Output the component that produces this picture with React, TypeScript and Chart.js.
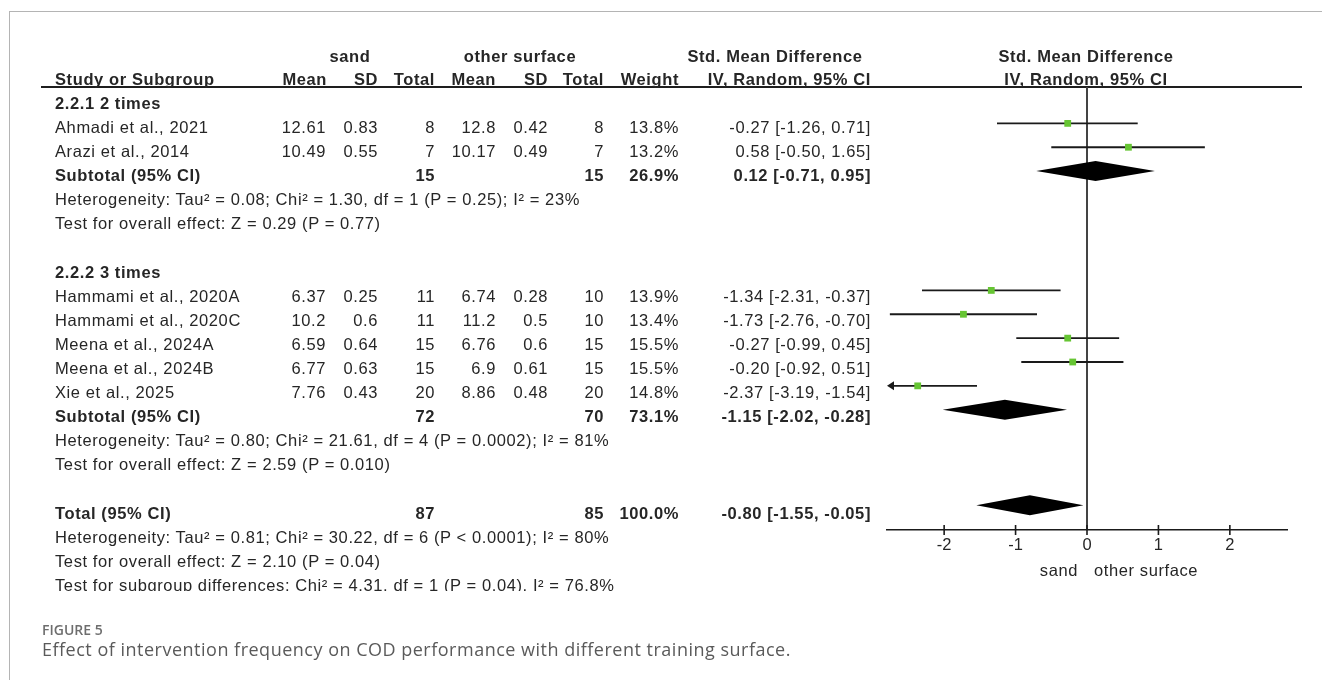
import React, { useEffect, useRef } from "react";
import { Chart, registerables } from "chart.js";

Chart.register(...registerables);

// ---------------- data ----------------
const groupLabels = ["2.2.1 2 times", "2.2.2 3 times"];
const studyNames = [
  "Ahmadi et al., 2021",
  "Arazi et al., 2014",
  "Hammami et al., 2020A",
  "Hammami et al., 2020C",
  "Meena et al., 2024A",
  "Meena et al., 2024B",
  "Xie et al., 2025",
];
const studyGroup = [0, 0, 1, 1, 1, 1, 1];
const sandMean = [12.61, 10.49, 6.37, 10.2, 6.59, 6.77, 7.76];
const sandSD = [0.83, 0.55, 0.25, 0.6, 0.64, 0.63, 0.43];
const sandTotal = [8, 7, 11, 11, 15, 15, 20];
const otherMean = [12.8, 10.17, 6.74, 11.2, 6.76, 6.9, 8.86];
const otherSD = [0.42, 0.49, 0.28, 0.5, 0.6, 0.61, 0.48];
const otherTotal = [8, 7, 10, 10, 15, 15, 20];
const studyWeight = [13.8, 13.2, 13.9, 13.4, 15.5, 15.5, 14.8];
const studySmd = [-0.27, 0.58, -1.34, -1.73, -0.27, -0.2, -2.37];
const studyLow = [-1.26, -0.5, -2.31, -2.76, -0.99, -0.92, -3.19];
const studyHigh = [0.71, 1.65, -0.37, -0.7, 0.45, 0.51, -1.54];

const subSandTotal = [15, 72];
const subOtherTotal = [15, 70];
const subWeight = [26.9, 73.1];
const subSmd = [0.12, -1.15];
const subLow = [-0.71, -2.02];
const subHigh = [0.95, -0.28];
const subHet = [
  "Heterogeneity: Tau² = 0.08; Chi² = 1.30, df = 1 (P = 0.25); I² = 23%",
  "Heterogeneity: Tau² = 0.80; Chi² = 21.61, df = 4 (P = 0.0002); I² = 81%",
];
const subTest = [
  "Test for overall effect: Z = 0.29 (P = 0.77)",
  "Test for overall effect: Z = 2.59 (P = 0.010)",
];

const totalSand = 87;
const totalOther = 85;
const totalWeight = 100.0;
const totalSmd = -0.8;
const totalLow = -1.55;
const totalHigh = -0.05;
const totalHet = "Heterogeneity: Tau² = 0.81; Chi² = 30.22, df = 6 (P < 0.0001); I² = 80%";
const totalTest = "Test for overall effect: Z = 2.10 (P = 0.04)";
const subgroupTest = "Test for subgroup differences: Chi² = 4.31, df = 1 (P = 0.04), I² = 76.8%";

const xTickValues = [-2, -1, 0, 1, 2];
const xMin = -2.8;
const xMax = 2.8;
const favoursLeft = "sand";
const favoursRight = "other surface";

// ---------------- layout (rows) ----------------
type Row =
  | { kind: "group"; g: number }
  | { kind: "study"; i: number }
  | { kind: "sub"; g: number }
  | { kind: "het"; text: string }
  | { kind: "blank" }
  | { kind: "total" };

function buildRows(): Row[] {
  const rows: Row[] = [];
  groupLabels.forEach((_, g) => {
    rows.push({ kind: "group", g });
    studyNames.forEach((_, i) => {
      if (studyGroup[i] === g) rows.push({ kind: "study", i });
    });
    rows.push({ kind: "sub", g });
    rows.push({ kind: "het", text: subHet[g] });
    rows.push({ kind: "het", text: subTest[g] });
    rows.push({ kind: "blank" });
  });
  rows.push({ kind: "total" });
  rows.push({ kind: "het", text: totalHet });
  rows.push({ kind: "het", text: totalTest });
  rows.push({ kind: "het", text: subgroupTest });
  return rows;
}
const rows = buildRows();
const studyRow: number[] = studyNames.map((_, i) => rows.findIndex((r) => r.kind === "study" && r.i === i));
const subRow: number[] = groupLabels.map((_, g) => rows.findIndex((r) => r.kind === "sub" && r.g === g));
const totalRow = rows.findIndex((r) => r.kind === "total");

const f2 = (v: number) => v.toFixed(2);
const ciText = (m: number, l: number, h: number) => `${f2(m)} [${f2(l)}, ${f2(h)}]`;
const pct = (v: number) => `${v.toFixed(1)}%`;

const COL = { sm: 326, ss: 378, st: 435, om: 496, os: 548, ot: 604, w: 679, ci: 871 };
const W = 1322;
const rowTop = (r: number) => 92.9 + 24.1 * r;

const baseText: React.CSSProperties = {
  position: "absolute",
  fontFamily: '"Liberation Sans", Arial, Helvetica, sans-serif',
  fontSize: "16.5px",
  letterSpacing: "0.6px",
  lineHeight: "20px",
  color: "#262626",
  whiteSpace: "nowrap",
};

function T(props: { x: number; top: number; align?: "left" | "right" | "center"; bold?: boolean; children: React.ReactNode }) {
  const { x, top, align = "left", bold, children } = props;
  const st: React.CSSProperties = { ...baseText, top, fontWeight: bold ? 700 : 400 };
  if (align === "left") st.left = x;
  else if (align === "right") st.right = W - x;
  else {
    st.left = x;
    st.transform = "translateX(-50%)";
  }
  return <div style={st}>{children}</div>;
}

// ---------------- chart plugin ----------------
const forestPlugin = {
  id: "forest",
  beforeDatasetsDraw(chart: any) {
    const { ctx, chartArea, scales } = chart;
    const x = scales.x;
    const y = scales.y;
    ctx.save();
    // header rule
    ctx.strokeStyle = "#1e1e1e";
    ctx.lineWidth = 2.2;
    ctx.beginPath();
    ctx.moveTo(41, chartArea.top);
    ctx.lineTo(1302, chartArea.top);
    ctx.stroke();
    // zero line
    const x0 = x.getPixelForValue(0);
    ctx.strokeStyle = "#444";
    ctx.lineWidth = 2;
    ctx.beginPath();
    ctx.moveTo(x0, chartArea.top);
    ctx.lineTo(x0, chartArea.bottom);
    ctx.stroke();
    // whiskers
    ctx.strokeStyle = "#1a1a1a";
    ctx.fillStyle = "#1a1a1a";
    ctx.lineWidth = 1.8;
    studySmd.forEach((_, i) => {
      const yy = y.getPixelForValue(studyRow[i]);
      const lowClip = studyLow[i] < x.min;
      const highClip = studyHigh[i] > x.max;
      const lx = x.getPixelForValue(Math.max(studyLow[i], x.min));
      const hx = x.getPixelForValue(Math.min(studyHigh[i], x.max));
      ctx.beginPath();
      ctx.moveTo(lx + (lowClip ? 4 : 0), yy);
      ctx.lineTo(hx - (highClip ? 4 : 0), yy);
      ctx.stroke();
      if (lowClip) {
        ctx.beginPath();
        ctx.moveTo(lx, yy);
        ctx.lineTo(lx + 7, yy - 4.5);
        ctx.lineTo(lx + 7, yy + 4.5);
        ctx.closePath();
        ctx.fill();
      }
      if (highClip) {
        ctx.beginPath();
        ctx.moveTo(hx, yy);
        ctx.lineTo(hx - 7, yy - 4.5);
        ctx.lineTo(hx - 7, yy + 4.5);
        ctx.closePath();
        ctx.fill();
      }
    });
    // diamonds
    const diamonds = [
      ...subSmd.map((m, g) => ({ m, l: subLow[g], h: subHigh[g], r: subRow[g] })),
      { m: totalSmd, l: totalLow, h: totalHigh, r: totalRow },
    ];
    ctx.fillStyle = "#000";
    diamonds.forEach((d) => {
      const yy = y.getPixelForValue(d.r);
      const xm = x.getPixelForValue(d.m);
      const xl = x.getPixelForValue(d.l);
      const xh = x.getPixelForValue(d.h);
      ctx.beginPath();
      ctx.moveTo(xl, yy);
      ctx.lineTo(xm, yy - 10);
      ctx.lineTo(xh, yy);
      ctx.lineTo(xm, yy + 10);
      ctx.closePath();
      ctx.fill();
    });
    ctx.restore();
  },
  afterDraw(chart: any) {
    const { ctx, chartArea, scales } = chart;
    const x = scales.x;
    ctx.save();
    ctx.strokeStyle = "#1a1a1a";
    ctx.lineWidth = 1.6;
    x.ticks.forEach((t: any) => {
      const px = x.getPixelForValue(t.value);
      ctx.beginPath();
      ctx.moveTo(px, chartArea.bottom - 5);
      ctx.lineTo(px, chartArea.bottom + 5);
      ctx.stroke();
    });
    ctx.restore();
  },
};

export default function App() {
  const canvasRef = useRef<HTMLCanvasElement | null>(null);

  useEffect(() => {
    if (!canvasRef.current) return;
    const chart = new Chart(canvasRef.current, {
      type: "scatter",
      data: {
        datasets: [
          {
            label: "Std. Mean Difference",
            data: studySmd.map((v, i) => ({ x: v, y: studyRow[i] })),
            pointStyle: "rect",
            pointRadius: 4.8,
            pointHoverRadius: 4.8,
            pointBackgroundColor: "#66c533",
            pointBorderWidth: 0,
            showLine: false,
          },
        ],
      },
      options: {
        responsive: false,
        animation: false,
        events: [],
        devicePixelRatio: 1,
        layout: { padding: { left: 887, right: 35, top: 87, bottom: 0 } },
        plugins: { legend: { display: false }, tooltip: { enabled: false } },
        scales: {
          x: {
            type: "linear",
            position: "bottom",
            min: xMin,
            max: xMax,
            afterBuildTicks: (s: any) => {
              s.ticks = xTickValues.map((v) => ({ value: v }));
            },
            afterFit: (s: any) => {
              s.height = 150;
            },
            grid: { display: false, drawTicks: false },
            border: { display: true, color: "#1a1a1a", width: 1.6 },
            ticks: {
              padding: 6,
              color: "#262626",
              font: { family: '"Liberation Sans", Arial, sans-serif', size: 16.5 },
              callback: (v: any) => String(v),
              maxRotation: 0,
              autoSkip: false,
            },
          },
          y: {
            type: "linear",
            display: false,
            reverse: true,
            min: -0.524,
            max: 18.04,
          },
        },
      },
      plugins: [forestPlugin],
    } as any);
    return () => chart.destroy();
  }, []);

  const tableItems: React.ReactNode[] = [];
  rows.forEach((r, idx) => {
    const top = rowTop(idx);
    if (r.kind === "group") {
      tableItems.push(<T key={`g${idx}`} x={55} top={top} bold>{groupLabels[r.g]}</T>);
    } else if (r.kind === "study") {
      const i = r.i;
      tableItems.push(
        <React.Fragment key={`s${idx}`}>
          <T x={55} top={top}>{studyNames[i]}</T>
          <T x={COL.sm} top={top} align="right">{String(sandMean[i])}</T>
          <T x={COL.ss} top={top} align="right">{String(sandSD[i])}</T>
          <T x={COL.st} top={top} align="right">{String(sandTotal[i])}</T>
          <T x={COL.om} top={top} align="right">{String(otherMean[i])}</T>
          <T x={COL.os} top={top} align="right">{String(otherSD[i])}</T>
          <T x={COL.ot} top={top} align="right">{String(otherTotal[i])}</T>
          <T x={COL.w} top={top} align="right">{pct(studyWeight[i])}</T>
          <T x={COL.ci} top={top} align="right">{ciText(studySmd[i], studyLow[i], studyHigh[i])}</T>
        </React.Fragment>
      );
    } else if (r.kind === "sub") {
      const g = r.g;
      tableItems.push(
        <React.Fragment key={`u${idx}`}>
          <T x={55} top={top} bold>Subtotal (95% CI)</T>
          <T x={COL.st} top={top} align="right" bold>{String(subSandTotal[g])}</T>
          <T x={COL.ot} top={top} align="right" bold>{String(subOtherTotal[g])}</T>
          <T x={COL.w} top={top} align="right" bold>{pct(subWeight[g])}</T>
          <T x={COL.ci} top={top} align="right" bold>{ciText(subSmd[g], subLow[g], subHigh[g])}</T>
        </React.Fragment>
      );
    } else if (r.kind === "het") {
      tableItems.push(<T key={`h${idx}`} x={55} top={top}>{r.text}</T>);
    } else if (r.kind === "total") {
      tableItems.push(
        <React.Fragment key={`t${idx}`}>
          <T x={55} top={top} bold>Total (95% CI)</T>
          <T x={COL.st} top={top} align="right" bold>{String(totalSand)}</T>
          <T x={COL.ot} top={top} align="right" bold>{String(totalOther)}</T>
          <T x={COL.w} top={top} align="right" bold>{pct(totalWeight)}</T>
          <T x={COL.ci} top={top} align="right" bold>{ciText(totalSmd, totalLow, totalHigh)}</T>
        </React.Fragment>
      );
    }
  });

  const h1 = 46;
  const h2 = 69;

  return (
    <div style={{ position: "absolute", left: 0, top: 0, width: W, height: 680, overflow: "hidden", background: "#fff" }}>
      <div
        style={{
          position: "absolute",
          left: 9,
          top: 11,
          width: 1400,
          height: 800,
          borderTop: "1px solid #b4b4b4",
          borderLeft: "1px solid #b4b4b4",
        }}
      />
      <canvas ref={canvasRef} width={W} height={680} style={{ position: "absolute", left: 0, top: 0, width: W, height: 680 }} />
      <div style={{ position: "absolute", left: 0, top: 0, width: W, height: 591, overflow: "hidden" }}>
        <T x={350} top={h1} align="center" bold>sand</T>
        <T x={520} top={h1} align="center" bold>other surface</T>
        <T x={775} top={h1} align="center" bold>Std. Mean Difference</T>
        <T x={1086} top={h1} align="center" bold>Std. Mean Difference</T>
        <T x={55} top={h2} bold>Study or Subgroup</T>
        <T x={COL.sm + 1} top={h2} align="right" bold>Mean</T>
        <T x={COL.ss} top={h2} align="right" bold>SD</T>
        <T x={COL.st} top={h2} align="right" bold>Total</T>
        <T x={COL.om} top={h2} align="right" bold>Mean</T>
        <T x={COL.os} top={h2} align="right" bold>SD</T>
        <T x={COL.ot} top={h2} align="right" bold>Total</T>
        <T x={COL.w} top={h2} align="right" bold>Weight</T>
        <T x={COL.ci} top={h2} align="right" bold>IV, Random, 95% CI</T>
        <T x={1086} top={h2} align="center" bold>IV, Random, 95% CI</T>
        {tableItems}
      </div>
      <T x={1078} top={560} align="right">{favoursLeft}</T>
      <T x={1094} top={560}>{favoursRight}</T>
      <div
        style={{
          position: "absolute",
          left: 42,
          top: 620.6,
          fontFamily: '"Open Sans", sans-serif',
          fontWeight: 600,
          fontSize: "14px",
          lineHeight: "18px",
          color: "#6e6e6e",
          whiteSpace: "nowrap",
        }}
      >
        FIGURE 5
      </div>
      <div
        style={{
          position: "absolute",
          left: 42,
          top: 637.5,
          fontFamily: '"Open Sans", sans-serif',
          fontWeight: 400,
          fontSize: "18px",
          letterSpacing: "0.5px",
          lineHeight: "22px",
          color: "#5a5a5a",
          whiteSpace: "nowrap",
        }}
      >
        Effect of intervention frequency on COD performance with different training surface.
      </div>
    </div>
  );
}
